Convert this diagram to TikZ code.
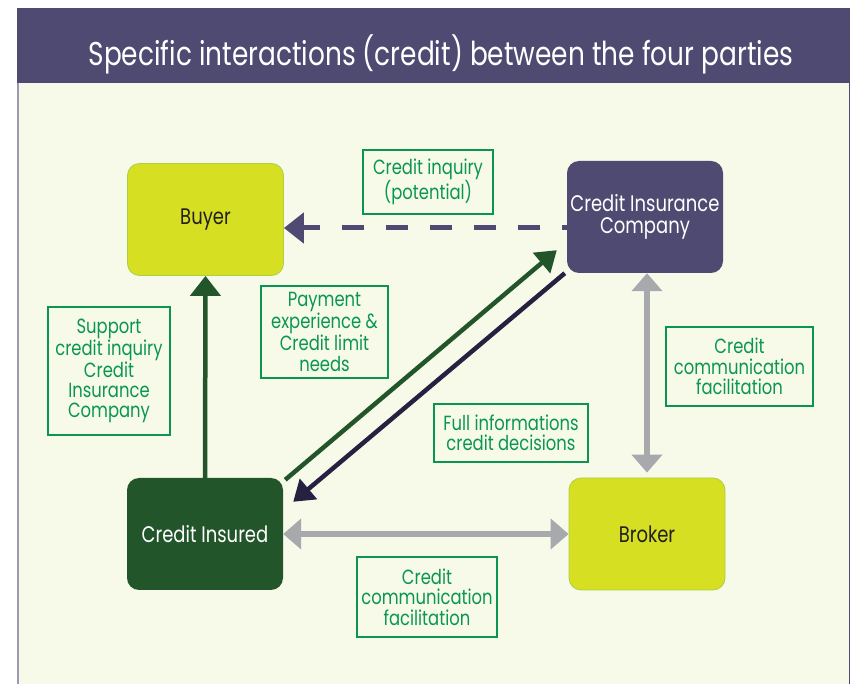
\documentclass[tikz,border=0pt]{standalone}
\usepackage{fontspec}
\setmainfont{Poppins}[FakeStretch=0.8]
\usetikzlibrary{arrows.meta}
\definecolor{titlebar}{RGB}{78,74,114}
\definecolor{cream}{RGB}{247,250,233}
\definecolor{leftline}{RGB}{156,154,176}
\definecolor{yellowgreen}{RGB}{214,223,34}
\definecolor{ygborder}{RGB}{170,208,70}
\definecolor{darkgreen}{RGB}{35,85,43}
\definecolor{navy}{RGB}{38,33,65}
\definecolor{greyarrow}{RGB}{167,169,172}
\definecolor{labgreen}{RGB}{10,150,80}
\definecolor{darktext}{RGB}{35,31,32}
\tikzset{
  party/.style={rounded corners=12, minimum width=156, minimum height=112, inner sep=0, align=center, font=\fontsize{22.5}{22}\selectfont},
  lightparty/.style={party, fill=yellowgreen, draw=ygborder, line width=0.8, text=darktext},
  lab/.style={draw=labgreen, line width=1.2, text=labgreen, align=center, inner sep=0, font=\fontsize{20.5}{20.4}\selectfont},
  bigtip/.tip={Triangle[length=20pt,width=30pt]},
  diagtip/.tip={Triangle[length=20pt,width=26pt]},
  greytip/.tip={Triangle[length=18pt,width=30pt]},
  greenarrow/.style={draw=darkgreen, line width=4.5, -{bigtip}},
  navyarrow/.style={draw=navy, line width=4.5, -{diagtip}},
  dasharrow/.style={draw=titlebar, line width=5, dash pattern=on 22pt off 22pt, dash phase=17pt, -{bigtip}},
  greyarrowstyle/.style={draw=greyarrow, line width=6, {greytip}-{greytip}},
  titletext/.style={text=white, font=\fontsize{33}{36}\selectfont, inner sep=0}
}
\begin{document}
\begin{tikzpicture}[x=1pt,y=-1pt]
\useasboundingbox (0,0) rectangle (855,684);
\fill[white] (0,0) rectangle (855,684);
\fill[titlebar] (17,8) rectangle (850,83);
\fill[cream] (17,83) rectangle (850,684);
\draw[leftline, line width=1.5] (17.75,83) -- (17.75,684);
\draw[titlebar, line width=1.2] (849.4,83) -- (849.4,684);
\node[titletext] (title) at (441,54) {Specific interactions (credit) between the four parties};

\node[lightparty] (buyer) at (205.5,219.5) {Buyer};
\node[party, fill=titlebar, text=white] (cic) at (645,217) {Credit Insurance\\Company};
\node[party, fill=darkgreen, text=white] (ci) at (205,534) {Credit Insured};
\node[lightparty] (broker) at (647,534) {Broker};

\node[lab, minimum width=130, minimum height=64] (l1) at (428,182) {Credit inquiry\\(potential)};
\node[lab, minimum width=127, minimum height=92] (l2) at (324.5,332) {Payment\\experience \&\\Credit limit\\needs};
\node[lab, minimum width=122, minimum height=128] (l3) at (109,371) {Support\\credit inquiry\\Credit\\Insurance\\Company};
\node[lab, minimum width=154, minimum height=58] (l4) at (511,433) {Full informations\\credit decisions};
\node[lab, minimum width=147, minimum height=79] (l5) at (739.5,366.5) {Credit\\communication\\facilitation};
\node[lab, minimum width=140, minimum height=80] (l6) at (427,597) {Credit\\communication\\facilitation};

\draw[dasharrow] ([yshift=-11pt]cic.west) -- ([yshift=-8.5pt]buyer.east);
\draw[greenarrow] (ci.north) -- (buyer.south);
\draw[greenarrow, -{diagtip}] ([shift={(2,2)}]ci.north east) -- ([shift={(-10,-23)}]cic.south west);
\draw[navyarrow] ([shift={(-2,0)}]cic.south west) -- ([shift={(10,24)}]ci.north east);
\draw[greyarrowstyle, shorten >=5pt] (broker.north |- cic.south) -- (broker.north);
\draw[greyarrowstyle] (ci.east) -- (broker.west);
\end{tikzpicture}
\end{document}
